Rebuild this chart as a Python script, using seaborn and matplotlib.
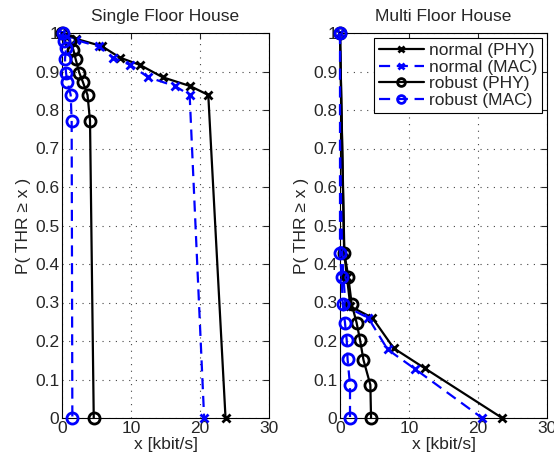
import numpy as np
import seaborn as sns
import matplotlib.pyplot as plt
from matplotlib.ticker import FuncFormatter

sns.set_style("white")
plt.rcParams['font.family'] = ['Liberation Sans', 'DejaVu Sans']

# Single floor house
sf_normal_phy_x = [0, 2.0, 5.75, 8.4, 11.3, 14.6, 18.6, 21.2, 23.7]
sf_normal_phy_y = [1.0, 0.985, 0.966, 0.936, 0.917, 0.885, 0.862, 0.839, 0]
sf_normal_mac_x = [0, 2.0, 5.3, 7.4, 9.9, 12.5, 16.4, 18.5, 20.6]
sf_normal_mac_y = [1.0, 0.982, 0.965, 0.936, 0.917, 0.885, 0.862, 0.839, 0]
sf_robust_phy_x = [0, 1.16, 1.65, 1.98, 2.5, 3.0, 3.7, 4.06, 4.6]
sf_robust_phy_y = [1.0, 0.978, 0.956, 0.932, 0.897, 0.874, 0.839, 0.772, 0]
sf_robust_mac_x = [0.1, 0.35, 0.58, 0.43, 0.58, 0.77, 1.26, 1.4, 1.5]
sf_robust_mac_y = [1.0, 0.978, 0.96, 0.932, 0.897, 0.874, 0.839, 0.772, 0]

# Multi floor house
mf_normal_phy_x = [0, 0.6, 1.0, 1.5, 4.7, 7.8, 12.3, 23.5]
mf_normal_phy_y = [1.0, 0.43, 0.367, 0.29, 0.26, 0.181, 0.129, 0]
mf_normal_mac_x = [0, 0.3, 0.5, 0.8, 4.1, 6.9, 10.9, 20.6]
mf_normal_mac_y = [1.0, 0.43, 0.367, 0.29, 0.26, 0.178, 0.127, 0]
mf_robust_phy_x = [0, 0.63, 1.2, 1.7, 2.4, 2.9, 3.4, 4.4, 4.5]
mf_robust_phy_y = [1.0, 0.429, 0.367, 0.295, 0.248, 0.203, 0.151, 0.086, 0]
mf_robust_mac_x = [0, 0, 0.24, 0.39, 0.72, 0.97, 1.1, 1.45, 1.45]
mf_robust_mac_y = [1.0, 0.429, 0.367, 0.295, 0.248, 0.203, 0.152, 0.086, 0]

styles = {
    "normal (PHY)": dict(color="black", linestyle="-", marker="x"),
    "normal (MAC)": dict(color="blue", linestyle=(0, (5, 3)), marker="x"),
    "robust (PHY)": dict(color="black", linestyle="-", marker="o"),
    "robust (MAC)": dict(color="blue", linestyle=(0, (5, 3)), marker="o"),
}

panels = [
    ("Single Floor House", [(sf_normal_phy_x, sf_normal_phy_y), (sf_normal_mac_x, sf_normal_mac_y),
                            (sf_robust_phy_x, sf_robust_phy_y), (sf_robust_mac_x, sf_robust_mac_y)]),
    ("Multi Floor House", [(mf_normal_phy_x, mf_normal_phy_y), (mf_normal_mac_x, mf_normal_mac_y),
                           (mf_robust_phy_x, mf_robust_phy_y), (mf_robust_mac_x, mf_robust_mac_y)]),
]

FS = 12.5
fig = plt.figure(figsize=(5.54, 4.68), dpi=100)
W, H = 554, 468
ax_left = [62, 340]
for k, (title, series) in enumerate(panels):
    ax = fig.add_axes([ax_left[k] / W, 1 - 418 / H, 207 / W, 385 / H])
    for (label, st), (xs, ys) in zip(styles.items(), series):
        sns.lineplot(x=xs, y=ys, sort=False, estimator=None, ax=ax, label=label,
                     color=st["color"], linestyle=st["linestyle"], marker=st["marker"],
                     linewidth=1.6, markersize=8 if st["marker"] == "o" else 6,
                     markerfacecolor="none", markeredgecolor=st["color"],
                     markeredgewidth=2, clip_on=False, zorder=3)
    ax.set_xlim(0, 30)
    ax.set_ylim(0, 1)
    ax.set_xticks([0, 10, 20, 30])
    ax.set_yticks(np.arange(0, 1.01, 0.1))
    ax.yaxis.set_major_formatter(FuncFormatter(lambda v, p: f"{v:g}"))
    ax.tick_params(direction="in", top=True, right=True, labelsize=FS, length=4,
                   width=0.8, pad=2)
    ax.grid(True, linestyle=(0, (1, 5)), color="#444444", linewidth=0.8)
    for s in ax.spines.values():
        s.set_color("black")
        s.set_linewidth(0.8)
    ax.set_title(title, fontsize=FS, pad=9)
    ax.set_xlabel("x [kbit/s]", fontsize=FS, labelpad=1)
    ax.set_ylabel("P( THR ≥ x )", fontsize=FS, labelpad=3)
    if k == 0:
        ax.get_legend().remove()
    else:
        leg = ax.legend(loc="upper right", fontsize=FS, frameon=True, fancybox=False,
                        borderaxespad=0.3, handlelength=2.6, labelspacing=0.1,
                        borderpad=0.25, handletextpad=0.3, markerscale=0.7)
        leg.get_frame().set_edgecolor("black")
        leg.get_frame().set_linewidth(0.8)
        leg.get_frame().set_alpha(1)
        leg.set_zorder(5)

fig.savefig("out.png", dpi=100)
